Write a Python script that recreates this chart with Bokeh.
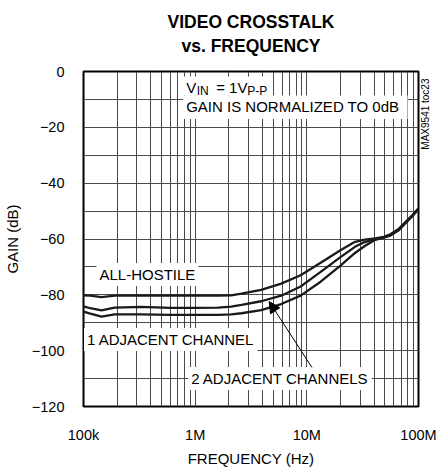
import math
from bokeh.plotting import figure
from bokeh.models import (Range1d, FixedTicker, Label, Arrow, NormalHead,
                          BoxAnnotation, Title, LinearAxis)
from bokeh.embed import file_html
from bokeh.resources import INLINE

# ---- data ----
freq_hz = [100e3, 115e3, 145e3, 190e3, 330e3, 600e3, 1e6, 1.6e6, 2.1e6, 2.6e6,
           3.9e6, 5.9e6, 8.8e6, 13.3e6, 20e6, 27e6, 33e6, 41e6, 49e6, 56e6,
           66e6, 76e6, 88e6, 100e6]
all_hostile_db = [-80.2, -80.3, -80.8, -80.3, -80.3, -80.3, -80.3, -80.3, -80.2, -79.6,
                  -78.2, -76.0, -73.0, -68.5, -64.0, -61.0, -60.2, -59.8, -59.2, -58.3,
                  -56.5, -54.0, -51.5, -49.0]
two_adjacent_db = [-84.1, -84.8, -85.6, -84.6, -84.3, -84.7, -84.7, -84.6, -84.2, -83.6,
                   -82.3, -80.3, -77.0, -71.8, -66.5, -62.8, -61.1, -60.0, -59.3, -58.5,
                   -56.7, -54.2, -51.7, -49.2]
one_adjacent_db = [-86.0, -86.7, -87.8, -87.0, -87.0, -87.2, -87.2, -87.2, -87.0, -86.6,
                   -85.5, -83.3, -80.3, -75.3, -69.5, -65.0, -62.5, -60.3, -59.5, -58.8,
                   -57.0, -54.4, -51.8, -49.4]

x_major_ticks = [100000, 1000000, 10000000, 100000000]
x_tick_labels = ["100k", "1M", "10M", "100M"]
y_major_ticks = [-120, -100, -80, -60, -40, -20, 0]
y_grid_ticks = list(range(-120, 1, 10))
x_grid_ticks = [m * 10 ** d for d in range(5, 8) for m in range(1, 10)] + [1e8]

FONT = "Liberation Sans"
INK = "#1a1a1a"

p = figure(frame_width=335, frame_height=335, x_axis_type="log", title=None,
           x_range=Range1d(1e5, 1e8), y_range=Range1d(-120, 0),
           output_backend="svg", toolbar_location=None,
           min_border_left=74, min_border_right=0,
           min_border_top=0, min_border_bottom=50)

p.outline_line_color = "black"
p.outline_line_width = 2
p.background_fill_color = "white"
p.border_fill_color = "white"

# grids
p.xgrid.ticker = FixedTicker(ticks=x_grid_ticks)
p.ygrid.ticker = FixedTicker(ticks=y_grid_ticks)
for g in (p.xgrid, p.ygrid):
    g.grid_line_color = "#4a4a4a"
    g.grid_line_width = 1

# axes
p.xaxis.ticker = FixedTicker(ticks=x_major_ticks)
p.xaxis.major_label_overrides = dict(zip(x_major_ticks, x_tick_labels))
p.yaxis.ticker = FixedTicker(ticks=y_major_ticks)
for ax in (p.xaxis, p.yaxis):
    ax.axis_line_color = None
    ax.major_tick_line_color = None
    ax.minor_tick_line_color = None
    ax.major_tick_out = 0
    ax.major_tick_in = 0
    ax.major_label_text_font = FONT
    ax.major_label_text_font_size = "14.5px"
    ax.major_label_text_color = "black"
    ax.axis_label_text_font = FONT
    ax.axis_label_text_font_size = "15px"
    ax.axis_label_text_font_style = "normal"
    ax.axis_label_text_color = "black"
p.xaxis.major_label_standoff = 20
p.yaxis.major_label_standoff = 19
p.xaxis.axis_label = "FREQUENCY (Hz)"
p.yaxis.axis_label = "GAIN (dB)"
p.xaxis.axis_label_standoff = 4
p.yaxis.axis_label_standoff = 8

# figure code on the right, as a vertical tick label of a right-hand axis
code_tick = -28
right_ax = LinearAxis(ticker=FixedTicker(ticks=[code_tick]),
                      major_label_overrides={code_tick: "MAX9541 toc23"},
                      major_label_orientation=math.pi / 2,
                      axis_line_color=None, major_tick_line_color=None,
                      minor_tick_line_color=None, major_tick_out=0, major_tick_in=0,
                      major_label_standoff=7, major_label_text_font=FONT,
                      major_label_text_font_size="10px", major_label_text_color="black")
p.add_layout(right_ax, "right")

# titles (first added sits closest to the frame)
p.add_layout(Title(text=" ", text_font_size="5px", standoff=5.9), "above")
p.add_layout(Title(text="vs. FREQUENCY", align="center", vertical_align="middle",
                   text_font=FONT, text_font_size="17.5px", text_font_style="bold",
                   text_color="black", standoff=2.4), "above")
p.add_layout(Title(text="VIDEO CROSSTALK", align="center", vertical_align="middle",
                   text_font=FONT, text_font_size="17.5px", text_font_style="bold",
                   text_color="black", standoff=2.4), "above")
p.add_layout(Title(text=" ", text_font_size="1px", standoff=5.4), "above")

# curves
for series in (all_hostile_db, two_adjacent_db, one_adjacent_db):
    p.line(freq_hz, series, line_color=INK, line_width=2.3)

def lab(text, x, y, size="15px", bg=True, **kw):
    opts = dict(x=x, y=y, text=text, text_font=FONT, text_font_size=size,
                text_color="black", text_align="left", text_baseline="middle")
    if bg:
        opts.update(background_fill_color="white", padding=3)
    opts.update(kw)
    p.add_layout(Label(**opts))

# note backgrounds
p.add_layout(BoxAnnotation(left=781e3, right=79.8e6, top=-8.6, bottom=-17.0,
                           fill_color="white", fill_alpha=1.0, line_color=None))
p.add_layout(BoxAnnotation(left=781e3, right=4.77e6, top=-1.8, bottom=-8.6,
                           fill_color="white", fill_alpha=1.0, line_color=None))
lab("GAIN IS NORMALIZED TO 0dB", 831e3, -12.6, bg=False)
lab("V", 831e3, -5.6, bg=False)
lab("IN", 831e3, -5.6, size="12px", bg=False, x_offset=10.5, y_offset=-3.5)
lab("= 1V", 831e3, -5.6, bg=False, x_offset=30)
lab("P-P", 831e3, -5.6, size="12px", bg=False, x_offset=61, y_offset=-3.5)

lab("ALL-HOSTILE", 130.6e3, -72.7)
lab("1 ADJACENT CHANNEL", 101e3, -96.0)
lab("2 ADJACENT CHANNELS", 865e3, -110.0)

p.add_layout(Arrow(end=NormalHead(size=11, fill_color="black", line_color="black"),
                   x_start=11.1e6, y_start=-106.0, x_end=4.6e6, y_end=-82.4,
                   line_color="black", line_width=1))

open("out.html", "w").write(file_html(p, INLINE))
